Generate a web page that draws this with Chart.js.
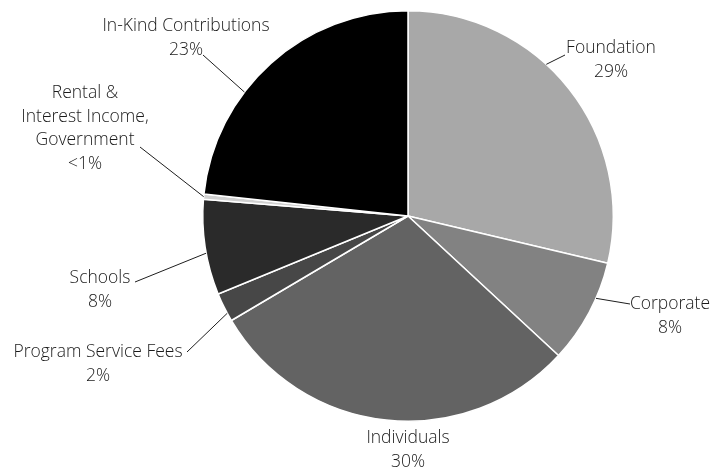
<!DOCTYPE html>
<html>
<head>
<meta charset="utf-8">
<script src="https://cdn.jsdelivr.net/npm/chart.js@4/dist/chart.umd.min.js"></script>
<style>
html,body{margin:0;padding:0;background:#fff;}
#wrap{width:727px;height:469px;}
</style>
</head>
<body>
<div id="wrap"><canvas id="c" width="727" height="469"></canvas></div>
<script>
const categories = ["Foundation","Corporate","Individuals","Program Service Fees","Schools","Rental & Interest Income, Government","In-Kind Contributions"];
const shares = [28.7, 8.2, 29.6, 2.3, 7.5, 0.4, 23.3];
const shareLabels = ["29%","8%","30%","2%","8%","<1%","23%"];
const sliceColors = ["#a8a8a8","#828282","#636363","#474747","#2a2a2a","#d0d0d0","#000000"];

const labelLines = [
  ["Foundation"],
  ["Corporate"],
  ["Individuals"],
  ["Program Service Fees"],
  ["Schools"],
  ["Rental &","Interest Income,","Government"],
  ["In-Kind Contributions"]
];

// layout only: text anchor (center x, first baseline y), leader end near text, angle fraction within slice
const labelLayout = [
  {x:611, y:53, lx:565, ly:55, frac:0.41},
  {x:670, y:309, lx:630, ly:304, frac:0.35},
  {x:408, y:443, lx:null},
  {x:98, y:357, lx:187, ly:352, frac:0.28},
  {x:100, y:283, lx:135, ly:282, frac:0.44},
  {x:85, y:98, lx:140, ly:147, frac:0.5},
  {x:186, y:31, lx:203, ly:55, frac:0.37}
];

const labelPlugin = {
  id:'pieLabels',
  afterDatasetsDraw(chart){
    const ctx = chart.ctx;
    const meta = chart.getDatasetMeta(0);
    ctx.save();
    ctx.font = '300 17.5px "Open Sans", Lato, sans-serif';
    ctx.fillStyle = '#1a1a1a';
    ctx.textAlign = 'center';
    ctx.textBaseline = 'alphabetic';
    labelLayout.forEach((lab,i)=>{
      const lines = labelLines[i].concat([shareLabels[i]]);
      lines.forEach((t,k)=>{
        ctx.fillText(t, lab.x, lab.y + k*23.5);
      });
      if(lab.lx!==null){
        const arc = meta.data[i];
        const p = arc.getProps(['x','y','startAngle','endAngle','outerRadius'], true);
        const a = p.startAngle + (p.endAngle-p.startAngle)*lab.frac;
        const ex = p.x + Math.cos(a)*p.outerRadius;
        const ey = p.y + Math.sin(a)*p.outerRadius;
        ctx.strokeStyle = '#1e1e1e';
        ctx.lineWidth = 1;
        ctx.beginPath();
        ctx.moveTo(lab.lx, lab.ly);
        ctx.lineTo(ex, ey);
        ctx.stroke();
      }
    });
    ctx.restore();
  }
};

new Chart(document.getElementById('c'), {
  type:'pie',
  data:{
    labels:categories,
    datasets:[{data:shares, backgroundColor:sliceColors, borderColor:'#ffffff', borderWidth:1.5}]
  },
  options:{
    responsive:false,
    animation:false,
    layout:{padding:{left:202, right:113, top:10, bottom:47}},
    plugins:{legend:{display:false}, tooltip:{enabled:false}}
  },
  plugins:[labelPlugin]
});
</script>
</body>
</html>
